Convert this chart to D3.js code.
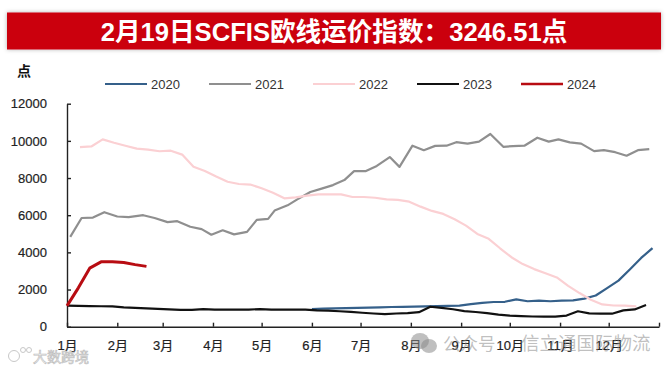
<!DOCTYPE html>
<html>
<head>
<meta charset="utf-8">
<script src="https://cdn.jsdelivr.net/npm/d3@7"></script>
<style>
  html, body { margin: 0; padding: 0; background: #fff; }
  text { font-family: "Liberation Sans", "Noto Sans CJK SC", sans-serif; }
</style>
</head>
<body>
<div id="chart"></div>
<script>
const width = 671, height = 370;
const margin = { top: 103.7, right: 12, bottom: 43.3, left: 67 };

// values, day = days since 1 Jan
const monthDays = [0, 31, 59, 90, 120, 151, 181, 212, 243, 273, 304, 334, 365];
const monthLabels = ["1月", "2月", "3月", "4月", "5月", "6月", "7月", "8月", "9月", "10月", "11月", "12月", ""];
const yTicks = [0, 2000, 4000, 6000, 8000, 10000, 12000];

const values2020 = [950, 970, 985, 1000, 1015, 1030, 1045, 1060, 1070, 1080, 1095, 1105, 1120, 1130, 1210, 1280, 1330, 1340, 1470, 1370, 1400, 1370, 1400, 1420, 1510, 1680, 2080, 2480, 3080, 3700, 4230];
const days2021 = [2, 9, 16, 23, 31, 38, 47, 54, 62, 68, 76, 83, 89, 96, 103, 111, 117, 124, 128, 136, 142, 150, 157, 164, 171, 177, 184, 191, 199, 205, 213, 220, 227, 234, 240, 247, 254, 261, 269, 275, 282, 290, 297, 303, 310, 317, 325, 331, 338, 345, 352, 359];
const values2021 = [4833, 5850, 5870, 6160, 5930, 5900, 6000, 5850, 5630, 5680, 5380, 5250, 4950, 5190, 4970, 5100, 5750, 5800, 6250, 6530, 6850, 7250, 7430, 7620, 7890, 8370, 8370, 8650, 9130, 8600, 9740, 9500, 9730, 9740, 9930, 9850, 9960, 10370, 9680, 9720, 9740, 10170, 9960, 10080, 9920, 9850, 9450, 9500, 9390, 9200, 9500, 9560];
const values2022 = [9666, 9700, 10080, 9900, 9740, 9580, 9530, 9440, 9470, 9260, 8610, 8380, 8080, 7800, 7680, 7650, 7450, 7210, 6910, 6960, 7050, 7120, 7120, 7120, 6980, 6980, 6940, 6850, 6820, 6730, 6460, 6230, 6070, 5780, 5440, 4990, 4730, 4220, 3740, 3370, 3100, 2880, 2650, 2200, 1810, 1450, 1200, 1140, 1130, 1090];
const values2023 = [1130, 1120, 1110, 1100, 1090, 1040, 1010, 990, 960, 930, 910, 910, 950, 920, 920, 920, 920, 950, 920, 920, 920, 920, 880, 860, 830, 800, 750, 710, 680, 710, 730, 780, 1075, 1010, 940, 840, 790, 730, 650, 600, 570, 550, 540, 540, 600, 830, 720, 700, 700, 880, 930, 1170];
const values2024 = [1120, 2090, 3150, 3490, 3490, 3450, 3340, 3246.51];

const weekly = (start, vals) => vals.map((v, i) => ({ day: start + i * 7, value: v }));

const series = [
  { name: "2020", color: "#35608a", w: 2.2, data: weekly(151, values2020) },
  { name: "2021", color: "#8f8f8f", w: 2.2, data: values2021.map((v, i) => ({ day: days2021[i], value: v })) },
  { name: "2022", color: "#fbd0d3", w: 2.2, data: weekly(8, values2022) },
  { name: "2023", color: "#111111", w: 2.2, data: weekly(0, values2023) },
  { name: "2024", color: "#b80c12", w: 3, data: weekly(0, values2024) }
];

const svg = d3.select("#chart")
  .append("svg")
  .attr("width", width)
  .attr("height", height)
  .style("display", "block");

let defs = svg.append("defs");
let shadow = defs.append("filter").attr("id", "shadow")
  .attr("x", "-2%").attr("y", "-20%").attr("width", "104%").attr("height", "140%");
shadow.append("feDropShadow")
  .attr("dx", 0).attr("dy", 0).attr("stdDeviation", 2)
  .attr("flood-color", "#000").attr("flood-opacity", 0.3);

// title band
svg.append("rect")
  .attr("x", 7).attr("y", 12.5)
  .attr("width", 654).attr("height", 37)
  .attr("fill", "#cb0510")
  .attr("filter", "url(#shadow)");

svg.append("text")
  .attr("x", 334).attr("y", 40.5)
  .attr("text-anchor", "middle")
  .attr("fill", "#fff")
  .attr("font-size", 25.6)
  .attr("font-weight", "bold")
  .text("2月19日SCFIS欧线运价指数：3246.51点");

svg.append("text")
  .attr("x", 24).attr("y", 76)
  .attr("text-anchor", "middle")
  .attr("font-size", 14)
  .attr("font-weight", "bold")
  .attr("fill", "#111")
  .text("点");

let x = d3.scaleLinear()
  .domain([0, 365])
  .range([margin.left, width - margin.right]);

let y = d3.scaleLinear()
  .domain([0, 12000])
  .range([height - margin.bottom, margin.top]);

let xAxis = svg.append("g")
  .attr("transform", `translate(0,${height - margin.bottom})`)
  .call(d3.axisBottom(x)
    .tickValues(monthDays)
    .tickFormat((d, i) => monthLabels[i])
    .tickSizeInner(-4)
    .tickSizeOuter(0)
    .tickPadding(14.5));

let yAxis = svg.append("g")
  .attr("transform", `translate(${margin.left},0)`)
  .call(d3.axisLeft(y)
    .tickValues(yTicks)
    .tickFormat(d => d)
    .tickSizeInner(-4)
    .tickSizeOuter(0)
    .tickPadding(20));

for (let axis of [xAxis, yAxis]) {
  axis.selectAll("path, line").attr("stroke", "#222").attr("stroke-width", 1.4);
  axis.selectAll("text")
    .attr("font-family", null)
    .attr("font-size", 13)
    .attr("fill", "#222")
    .attr("stroke", "#222")
    .attr("stroke-width", 0.2);
}

let line = d3.line()
  .x(d => x(d.day))
  .y(d => y(d.value));

for (let s of series) {
  svg.append("path")
    .datum(s.data)
    .attr("fill", "none")
    .attr("stroke", s.color)
    .attr("stroke-width", s.w)
    .attr("stroke-linejoin", "round")
    .attr("d", line);
}

// legend
let legendX = d3.scalePoint()
  .domain(series.map(s => s.name))
  .range([105, 521]);

let legend = svg.append("g")
  .selectAll("g")
  .data(series)
  .join("g")
  .attr("transform", d => `translate(${legendX(d.name)},84)`);

legend.append("line")
  .attr("x2", 42)
  .attr("stroke", d => d.color)
  .attr("stroke-width", d => d.w === 3 ? 2.5 : 2);

legend.append("text")
  .attr("x", 46)
  .attr("dy", "0.36em")
  .attr("font-size", 13)
  .attr("fill", "#333")
  .text(d => d.name);

// watermarks
let marks = svg.append("g").attr("fill", "#8a8a8a").attr("fill-opacity", 0.55);
marks.append("ellipse").attr("cx", 420).attr("cy", 341).attr("rx", 9).attr("ry", 8);
marks.append("ellipse").attr("cx", 429).attr("cy", 346).attr("rx", 8).attr("ry", 7);
marks.append("text").attr("x", 443).attr("y", 350).attr("font-size", 17.5).text("公众号");
marks.append("text").attr("x", 521).attr("y", 350).attr("font-size", 18.5).text("信立通国际物流");

let logo = svg.append("g").attr("fill", "#fff").attr("stroke", "#c8c8c8").attr("stroke-width", 1);
logo.append("circle").attr("cx", 14).attr("cy", 356).attr("r", 5.5);
logo.append("circle").attr("cx", 23).attr("cy", 350).attr("r", 2.5);
logo.append("circle").attr("cx", 29).attr("cy", 350).attr("r", 2.5);

svg.append("text")
  .attr("x", 33).attr("y", 362)
  .attr("font-size", 14)
  .attr("fill", "#fff")
  .attr("stroke", "#c0c0c0")
  .attr("stroke-width", 0.7)
  .text("大数跨境");
</script>
</body>
</html>
